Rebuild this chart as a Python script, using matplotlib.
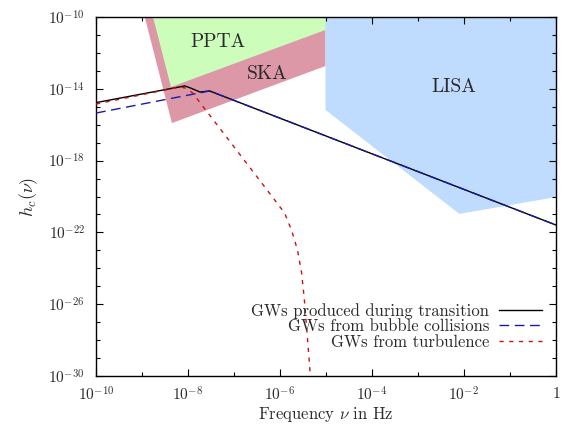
import matplotlib
matplotlib.use("Agg")
import matplotlib.pyplot as plt
import matplotlib.ticker as mticker
import numpy as np

plt.rcParams["font.family"] = "serif"
plt.rcParams["font.serif"] = ["cmr10", "DejaVu Serif"]
plt.rcParams["mathtext.fontset"] = "cm"
plt.rcParams["axes.formatter.use_mathtext"] = True

# log10 frequency / log10 h_c
total_logf = [-10.0, -8.07, -7.95, -7.74, -7.53, 0.0]
total_logh = [-14.77, -13.84, -13.95, -14.18, -14.12, -21.59]

bubble_logf = [-10.0, -7.53, 0.0]
bubble_logh = [-15.35, -14.12, -21.59]

turb_logf = [-10.0, -8.18, -8.05, -7.90, -6.83, -6.23, -5.90, -5.75, -5.62, -5.53, -5.47, -5.40, -5.34]
turb_logh = [-14.85, -13.90, -13.96, -14.23, -17.80, -19.81, -20.92, -21.87, -22.98, -24.26, -25.77, -27.99, -30.0]

# detector regions (log10 f, log10 h)
ska_logf = [-8.94, -5.01, -5.01, -8.35]
ska_logh = [-10.0, -10.0, -12.73, -15.91]
ppta_logf = [-8.76, -5.01, -5.01, -8.37]
ppta_logh = [-10.0, -10.0, -10.72, -13.90]
lisa_logf = [-5.01, 0.0, 0.0, -2.10, -5.01]
lisa_logh = [-10.0, -10.0, -20.03, -20.97, -15.18]

xticks = [-10, -8, -6, -4, -2, 0]
xticklabels = [r"$10^{-10}$", r"$10^{-8}$", r"$10^{-6}$", r"$10^{-4}$", r"$10^{-2}$", r"$1$"]
yticks = [-30, -26, -22, -18, -14, -10]
yticklabels = [r"$10^{%d}$" % v for v in yticks]

txt = "#2a2a2a"


def p(a):
    return 10.0 ** np.array(a)


fig = plt.figure(figsize=(5.75, 4.24), dpi=100)
ax = fig.add_axes([96 / 575, 1 - 376 / 424, 460 / 575, 359 / 424])

ax.fill(p(ska_logf), p(ska_logh), color="#dc98a7", lw=0, zorder=1)
ax.fill(p(ppta_logf), p(ppta_logh), color="#ccfdbb", lw=0, zorder=2)
ax.fill(p(lisa_logf), p(lisa_logh), color="#bfdcfe", lw=0, zorder=1)

ax.plot(p(total_logf), p(total_logh), color="black", lw=1.0, zorder=3,
        label="GWs produced during transition")
ax.plot(p(bubble_logf), p(bubble_logh), color="#1a1aaa", lw=1.0, dashes=(7, 4), zorder=4,
        label="GWs from bubble collisions")
ax.plot(p(turb_logf), p(turb_logh), color="#cc1111", lw=1.0, dashes=(3, 4), zorder=4,
        label="GWs from turbulence")

ax.text(p(-7.35), p(-11.39), "PPTA", fontsize=14, ha="center", va="center", color=txt, zorder=5)
ax.text(p(-6.28), p(-13.18), "SKA", fontsize=14, ha="center", va="center", color=txt, zorder=5)
ax.text(p(-2.22), p(-13.9), "LISA", fontsize=14, ha="center", va="center", color=txt, zorder=5)

ax.set_xscale("log")
ax.set_yscale("log")
ax.set_xlim(1e-10, 1)
ax.set_ylim(1e-30, 1e-10)

ax.xaxis.set_major_locator(mticker.FixedLocator(p(xticks)))
ax.xaxis.set_major_formatter(mticker.FixedFormatter(xticklabels))
ax.xaxis.set_minor_locator(mticker.FixedLocator(p(np.arange(-10, 1))))
ax.xaxis.set_minor_formatter(mticker.NullFormatter())
ax.yaxis.set_major_locator(mticker.FixedLocator(p(yticks)))
ax.yaxis.set_major_formatter(mticker.FixedFormatter(yticklabels))
ax.yaxis.set_minor_locator(mticker.FixedLocator(p(np.arange(-30, -9))))
ax.yaxis.set_minor_formatter(mticker.NullFormatter())

ax.tick_params(which="both", direction="in", top=True, right=True, labelsize=11,
               labelcolor=txt)
ax.tick_params(axis="x", pad=7)
ax.tick_params(axis="y", pad=8)
ax.tick_params(which="major", length=5, width=0.8)
ax.tick_params(which="minor", length=3, width=0.8)
for s in ax.spines.values():
    s.set_linewidth(1.0)

ax.set_xlabel(r"Frequency $\nu$ in Hz", fontsize=12, labelpad=1, color=txt)
ax.set_ylabel(r"$h_c(\nu)$", fontsize=13, labelpad=6, color=txt)

leg = ax.legend(loc="lower right", frameon=False, markerfirst=False, fontsize=12,
                handlelength=2.6, handletextpad=0.6, labelspacing=0.0,
                bbox_to_anchor=(0.985, 0.055), borderaxespad=0.0)
for t in leg.get_texts():
    t.set_color(txt)

fig.savefig("out.png", dpi=100)
